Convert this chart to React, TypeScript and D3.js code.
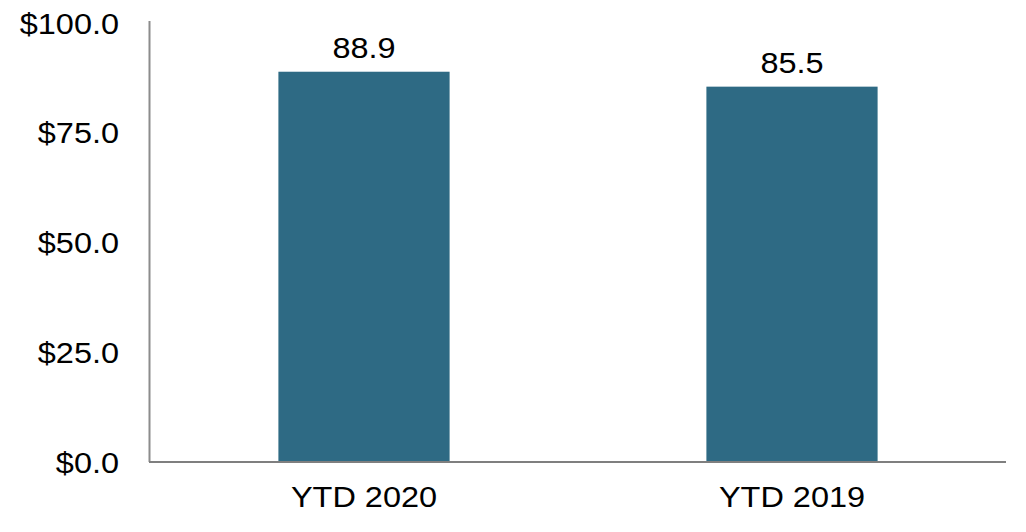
import React from "react";
import * as d3 from "d3";

const categories = ["YTD 2020", "YTD 2019"];
const values = [88.9, 85.5];
const yTicks = [0, 25, 50, 75, 100];

export default function App() {
  const W = 1026, H = 532;
  const left = 150, right = 1006, top = 23, bottom = 462;
  const x = d3.scaleBand<string>().domain(categories).range([left, right]).paddingInner(0.6).paddingOuter(0.3);
  const y = d3.scaleLinear().domain([0, 100]).range([bottom, top]);
  const font = "Liberation Sans, Arial, sans-serif";
  const fs = 29.5;
  const sx = 1.1;
  const T = (props: { x: number; y: number; anchor: string; children: string }) => (
    <text
      transform={`translate(${props.x},${props.y}) scale(${sx},1)`}
      textAnchor={props.anchor}
      fontFamily={font}
      fontSize={fs}
      fill="#000"
    >
      {props.children}
    </text>
  );
  return (
    <svg width={W} height={H} style={{ position: "absolute", left: 0, top: 0, background: "#fff" }}>
      {values.map((v, i) => {
        const c = categories[i];
        const bx = x(c)!;
        const cx = bx + x.bandwidth() / 2;
        return (
          <g key={c}>
            <rect x={bx} y={y(v)} width={x.bandwidth()} height={y(0) - y(v)} fill="#2E6A84" />
            <T x={cx} y={y(v) - 14} anchor="middle">{v.toFixed(1)}</T>
            <T x={cx} y={507} anchor="middle">{c}</T>
          </g>
        );
      })}
      <line x1={149.5} x2={149.5} y1={21} y2={bottom} stroke="#8c8c8c" strokeWidth={2} />
      <line x1={149} x2={right} y1={bottom} y2={bottom} stroke="#7f7f7f" strokeWidth={2} />
      {yTicks.map((t) => (
        <T key={t} x={119} y={y(t) + 10.5} anchor="end">{"$" + t.toFixed(1)}</T>
      ))}
    </svg>
  );
}
